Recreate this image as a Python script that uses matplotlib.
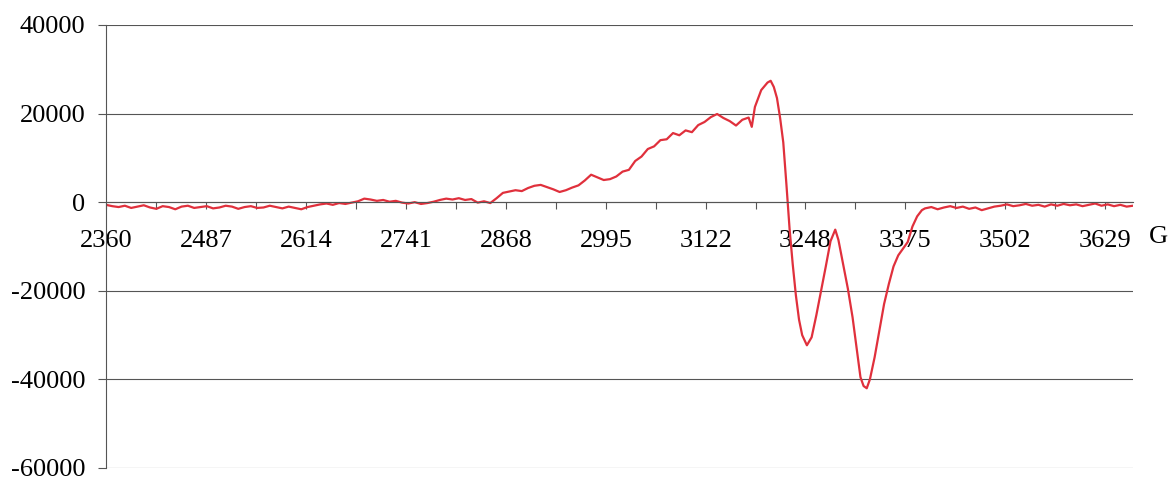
import matplotlib
matplotlib.use("Agg")
import matplotlib.pyplot as plt
from matplotlib.ticker import FixedLocator

# field (G) and signal intensity of the EPR trace
field = [
    2360, 2368, 2376, 2384, 2392, 2400, 2408, 2416, 2424, 2432, 2440, 2448,
    2456, 2464, 2472, 2480, 2488, 2496, 2504, 2512, 2520, 2528, 2536, 2544,
    2552, 2560, 2568, 2576, 2584, 2592, 2600, 2608, 2616, 2624, 2632, 2640,
    2648, 2656, 2664, 2672, 2680, 2688, 2696, 2704, 2712, 2720, 2728, 2736,
    2744, 2752, 2760, 2768, 2776, 2784, 2792, 2800, 2808, 2816, 2824, 2832,
    2840, 2848, 2856, 2864, 2872, 2880, 2888, 2896, 2904, 2912, 2920, 2928,
    2936, 2944, 2952, 2960, 2968, 2976, 2984, 2992, 3000, 3008, 3016, 3024,
    3032, 3040, 3048, 3056, 3064, 3072, 3080, 3088, 3096, 3104, 3112, 3120,
    3128, 3136, 3144, 3152, 3160, 3168, 3176, 3180, 3184, 3192, 3200, 3204,
    3208, 3212, 3216, 3220, 3224, 3228, 3232, 3236, 3240, 3244, 3250, 3256,
    3262, 3268, 3274, 3280, 3286, 3290, 3296, 3302, 3308, 3314, 3318, 3322,
    3326, 3330, 3336, 3342, 3348, 3354, 3360, 3366, 3372, 3378, 3384, 3390,
    3396, 3400, 3408, 3416, 3424, 3432, 3440, 3448, 3456, 3464, 3472, 3480,
    3488, 3496, 3504, 3512, 3520, 3528, 3536, 3544, 3552, 3560, 3568, 3576,
    3584, 3592, 3600, 3608, 3616, 3624, 3632, 3640, 3648, 3656, 3664,
]
intensity = [
    -600, -900, -1100, -800, -1300, -1000, -700, -1200, -1500, -900, -1100, -1600,
    -1000, -800, -1300, -1100, -900, -1400, -1200, -800, -1000, -1500, -1100, -900,
    -1300, -1200, -800, -1100, -1400, -1000, -1300, -1600, -1100, -800, -500, -300,
    -600, -200, -400, -100, 200, 800, 600, 300, 500, 100, 300, -100,
    -300, 0, -400, -200, 100, 500, 800, 600, 900, 500, 700, -100,
    200, -200, 900, 2100, 2400, 2700, 2500, 3200, 3700, 3900, 3400, 2900,
    2300, 2700, 3300, 3800, 4900, 6200, 5600, 5000, 5200, 5800, 6900, 7300,
    9300, 10300, 12000, 12600, 14000, 14200, 15600, 15100, 16200, 15800, 17400, 18100,
    19200, 19900, 19000, 18300, 17300, 18600, 19100, 17000, 21500, 25300, 27000, 27400,
    26000, 23500, 19000, 13500, 4000, -6000, -14000, -21000, -26500, -30000, -32300, -30500,
    -25500, -20000, -14500, -8800, -6200, -8500, -14000, -19500, -26000, -34000, -39500, -41500,
    -42000, -40000, -35000, -29000, -23000, -18500, -14500, -12000, -10500, -9000, -5500, -3200,
    -1800, -1400, -1100, -1600, -1200, -900, -1300, -1000, -1500, -1200, -1800, -1400,
    -1000, -800, -500, -900, -700, -400, -800, -600, -1000, -500, -800, -400,
    -700, -500, -900, -600, -300, -800, -500, -900, -600, -1000, -800,
]

x_labels = [2360, 2487, 2614, 2741, 2868, 2995, 3122, 3248, 3375, 3502, 3629]
y_ticks = [40000, 20000, 0, -20000, -40000, -60000]

plt.rcParams["font.family"] = ["Liberation Serif", "DejaVu Serif"]

fig = plt.figure(figsize=(11.71, 4.80), dpi=100)
ax = fig.add_axes([0.0905, 0.025, 0.877, 0.923])

ax.plot(field, intensity, color="#e0303c", lw=1.6)

ax.set_xlim(2360, 3664)
ax.set_ylim(-60000, 40000)

# horizontal grid at every y tick
for yv in y_ticks:
    ax.axhline(yv, color="#555555", lw=0.8, zorder=0)

ax.spines["top"].set_visible(False)
ax.spines["right"].set_visible(False)
ax.spines["left"].set_color("#555555")
ax.spines["left"].set_linewidth(0.8)
ax.spines["bottom"].set_position(("data", 0))
ax.spines["bottom"].set_color("#555555")
ax.spines["bottom"].set_linewidth(0.8)

ax.yaxis.set_major_locator(FixedLocator(y_ticks))
ax.set_yticklabels([str(v) for v in y_ticks])
ax.tick_params(axis="y", direction="out", length=6, width=0.8,
               color="#555555", pad=9, labelsize=19)

ax.xaxis.set_major_locator(FixedLocator(x_labels))
ax.set_xticklabels([str(v) for v in x_labels])
ax.xaxis.set_minor_locator(FixedLocator([v + 63.5 for v in x_labels]))
ax.tick_params(axis="x", which="both", direction="out", length=5, width=0.8,
               color="#555555", pad=15, labelsize=19)

ax.text(1.016, 0.521, "G", transform=ax.transAxes, fontsize=19,
        ha="left", va="center")

fig.savefig("out.png", dpi=100)
